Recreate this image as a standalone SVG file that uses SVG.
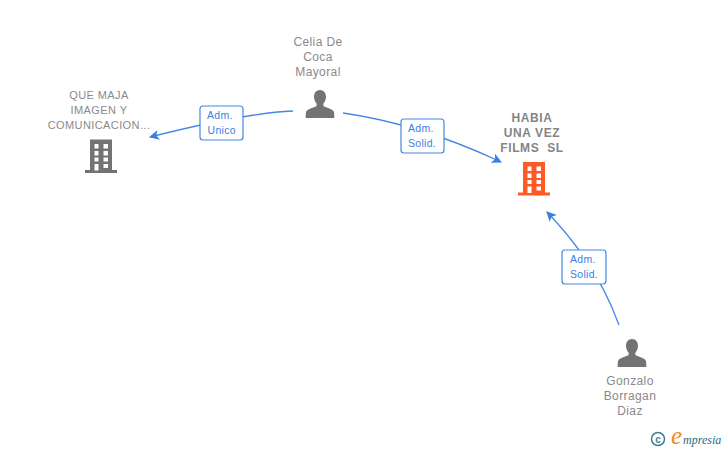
<svg xmlns="http://www.w3.org/2000/svg" width="728" height="450" viewBox="0 0 728 450">
<defs>
<style>
.t{font-family:"Liberation Sans",Arial,sans-serif;font-size:12px;fill:#8a8a8a;text-anchor:middle;letter-spacing:.4px}
.c{font-size:11px}
.b{font-weight:bold;fill:#858585;letter-spacing:.6px;white-space:pre}
.l{font-family:"Liberation Sans",Arial,sans-serif;font-size:10.5px;fill:#3b7fdc;letter-spacing:.3px}
.e{fill:none;stroke:#4387e5;stroke-width:1.3}
.box{fill:#fff;stroke:#4387e5;stroke-width:1.2}
.p{fill:#737373}
</style>
<marker id="a" markerWidth="12" markerHeight="12" refX="9" refY="5" orient="auto" markerUnits="userSpaceOnUse"><path d="M0 0L10 5L0 10L2.500 5Z" fill="#3b7fdc"/></marker>
<g id="person"><path d="M0-15c3.900 0 6 3 6 6.800 0 2.800-1.100 5.200-2.600 6.800v2.400c1 1 8.500 2.600 10.200 5.200 .6 1 .7 3.700 .7 6.800h-28.600c0-3.100 .1-5.800 .7-6.800 1.700-2.600 9.200-4.200 10.200-5.200v-2.400c-1.500-1.600-2.600-4-2.600-6.800 0-3.800 2.100-6.800 6-6.800z"/></g>
<g id="bld"><path fill-rule="evenodd" d="M-11-17h22V13.500h5V16.500H-16V13.500h5ZM-6.500-12.500v4.500h4v-4.500ZM2.500-12.500v4.500h4.500v-4.500ZM-6.500-5.500v4.500h4v-4.500ZM2.500-5.500v4.500h4.500v-4.500ZM-6.500 1v4h4v-4ZM2.500 1v4h4.500v-4ZM-6.500 7.500v6.500h4v-6.500ZM2.500 7.500v4h4.500v-4Z"/></g>
</defs>
<g id="connectors">
<path class="e" d="M293 111Q245 113 150 137" marker-end="url(#a)"/>
<path class="e" d="M343 113Q420 124 501 162" marker-end="url(#a)"/>
<path class="e" d="M619 325Q597 264 547 212" marker-end="url(#a)"/>
</g>
<g id="edge-label-1"><rect class="box" x="200" y="106" width="43" height="34" rx="3"/><text class="l" x="207" y="119">Adm.</text><text class="l" x="207.500" y="134">Unico</text></g>
<g id="edge-label-2"><rect class="box" x="401" y="119" width="43" height="34" rx="3"/><text class="l" x="408" y="132">Adm.</text><text class="l" x="408" y="147">Solid.</text></g>
<g id="edge-label-3"><rect class="box" x="562" y="250" width="44" height="34" rx="3"/><text class="l" x="570" y="263">Adm.</text><text class="l" x="570" y="278">Solid.</text></g>
<g id="node-maja"><text class="t c" x="99" y="99">QUE MAJA</text><text class="t c" x="99" y="114">IMAGEN Y</text><text class="t c" x="99" y="129">COMUNICACION...</text><use href="#bld" x="101" y="156.500" class="p"/></g>
<g id="node-celia"><text class="t" x="318" y="46">Celia De</text><text class="t" x="318" y="61">Coca</text><text class="t" x="318" y="76">Mayoral</text><use href="#person" x="320" y="105" class="p"/></g>
<g id="node-habia"><text class="t b" x="532" y="122">HABIA</text><text class="t b" x="532" y="137">UNA VEZ</text><text class="t b" x="532" y="152">FILMS  SL</text><use href="#bld" x="534" y="179" fill="#ff5a26"/></g>
<g id="node-gonzalo"><text class="t" x="630" y="385">Gonzalo</text><text class="t" x="630" y="400">Borragan</text><text class="t" x="630" y="415">Diaz</text><use href="#person" x="632" y="354" class="p"/></g>
<g id="logo"><circle cx="658" cy="439" r="6.500" fill="none" stroke="#3d7f94" stroke-width="1.500"/><text x="658" y="442.500" font-family="Liberation Sans,sans-serif" font-size="10" font-weight="bold" fill="#3d7f94" text-anchor="middle">c</text><text x="671" y="444" font-family="Liberation Serif,serif" font-style="italic" font-size="25" fill="#f08a1d">e</text><text x="683" y="444" font-family="Liberation Serif,serif" font-style="italic" font-size="12" fill="#1f6b80">mpresia</text></g>
</svg>
